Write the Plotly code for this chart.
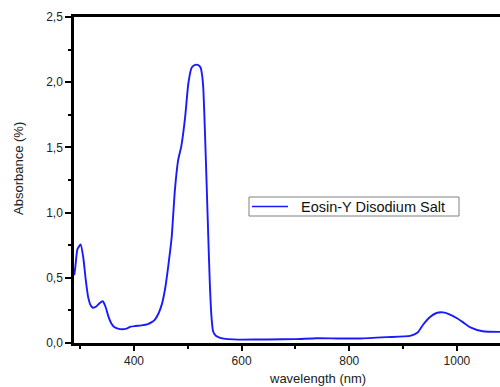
import plotly.graph_objects as go

wavelength = [289, 291, 295, 301, 306, 310, 315, 320, 324, 330, 336, 342, 347, 352, 358, 364, 370, 378, 386, 394, 402, 414, 426, 433, 439, 446, 452, 458, 464, 470, 476, 482, 488, 495, 501, 507, 512, 516, 520, 524, 527, 529, 532, 535, 538, 541, 544, 547, 552, 560, 570, 585, 600, 650, 700, 740, 780, 820, 870, 913, 927, 937, 950, 962, 974, 986, 1000, 1011, 1025, 1048, 1080]
absorbance = [0.52, 0.58, 0.72, 0.755, 0.65, 0.50, 0.35, 0.285, 0.27, 0.28, 0.305, 0.32, 0.28, 0.21, 0.15, 0.12, 0.11, 0.105, 0.11, 0.125, 0.13, 0.135, 0.145, 0.16, 0.18, 0.23, 0.30, 0.42, 0.60, 0.81, 1.17, 1.40, 1.51, 1.73, 1.99, 2.11, 2.13, 2.135, 2.13, 2.11, 2.04, 1.94, 1.60, 1.22, 0.82, 0.45, 0.20, 0.09, 0.055, 0.04, 0.032, 0.028, 0.026, 0.027, 0.03, 0.037, 0.035, 0.035, 0.045, 0.055, 0.08, 0.14, 0.20, 0.23, 0.235, 0.22, 0.19, 0.16, 0.12, 0.09, 0.085]
series_name = "Eosin-Y Disodium Salt"
x_ticks = [400, 600, 800, 1000]
y_ticks = [0.0, 0.5, 1.0, 1.5, 2.0, 2.5]
y_labels = ["0,0", "0,5", "1,0", "1,5", "2,0", "2,5"]

font = "Liberation Sans, Arial, sans-serif"
line_color = "#1a1aff"

L, R, T, B = 74, 500, 17, 343
def px(x):
    return (x - L) / (R - L)
def py(y):
    return (B - y) / (B - T)

fig = go.Figure()
fig.add_trace(go.Scatter(x=wavelength, y=absorbance, mode="lines",
                         line=dict(color=line_color, width=1.9, shape="spline", smoothing=0.5),
                         name=series_name, showlegend=False))

fig.update_layout(
    width=500, height=387,
    margin=dict(l=L, r=500 - R, t=T, b=387 - B),
    paper_bgcolor="white", plot_bgcolor="white",
    font=dict(family=font, size=12, color="#222"),
    showlegend=False,
    xaxis=dict(range=[288.6, 1080], tickvals=x_ticks, ticktext=[str(v) for v in x_ticks],
               showline=True, linecolor="black", linewidth=2.5, mirror=True,
               ticks="outside", ticklen=5, tickwidth=2, tickcolor="black",
               minor=dict(dtick=100, tick0=300, ticks="outside", ticklen=3, tickwidth=2, tickcolor="black"),
               showgrid=False, zeroline=False,
               tickfont=dict(family=font, size=12, color="#222")),
    yaxis=dict(range=[0, 2.5], tickvals=y_ticks, ticktext=y_labels,
               showline=True, linecolor="black", linewidth=2.5,
               ticks="outside", ticklen=6, tickwidth=2, tickcolor="black",
               minor=dict(dtick=0.25, tick0=0, ticks="outside", ticklen=3, tickwidth=2, tickcolor="black"),
               showgrid=False, zeroline=False,
               tickfont=dict(family=font, size=12, color="#222")),
)

# axis titles
fig.add_annotation(text="wavelength (nm)", xref="paper", yref="paper",
                   x=px(317), y=py(378), xanchor="center", yanchor="middle",
                   showarrow=False, font=dict(family=font, size=13, color="#222"))
fig.add_annotation(text="Absorbance (%)", xref="paper", yref="paper", textangle=-90,
                   x=px(18), y=py(168), xanchor="center", yanchor="middle",
                   showarrow=False, font=dict(family=font, size=13, color="#222"))

# legend box
fig.add_shape(type="rect", xref="paper", yref="paper",
              x0=px(249), x1=px(459), y0=py(216), y1=py(197),
              line=dict(color="#808080", width=1), fillcolor="white", layer="above")
fig.add_shape(type="line", xref="paper", yref="paper",
              x0=px(252), x1=px(288), y0=py(206.5), y1=py(206.5),
              line=dict(color=line_color, width=1.6), layer="above")
fig.add_annotation(text=series_name, xref="paper", yref="paper",
                   x=px(299), y=py(206.5), xanchor="left", yanchor="middle",
                   showarrow=False, font=dict(family=font, size=14.5, color="#111"))

fig.write_html("out.html")
